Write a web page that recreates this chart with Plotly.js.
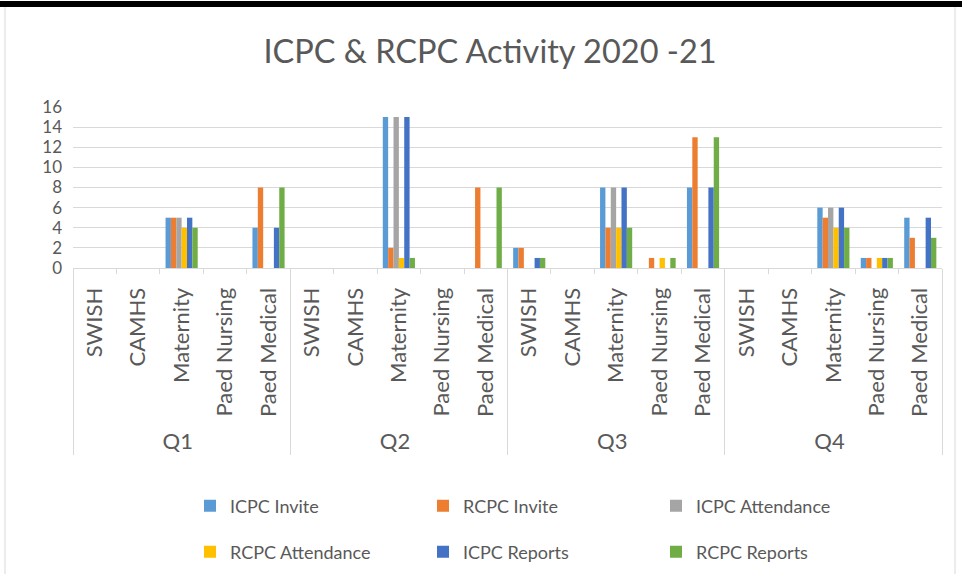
<!DOCTYPE html>
<html>
<head>
<meta charset="utf-8">
<script src="https://cdn.plot.ly/plotly-3.0.1.min.js"></script>
<style>html,body{margin:0;padding:0;background:#fff;}#chart{width:962px;height:574px;}</style>
</head>
<body>
<div id="chart"></div>
<script>
// Data
var quarters = ['Q1', 'Q2', 'Q3', 'Q4'];
var units = ['SWISH', 'CAMHS', 'Maternity', 'Paed Nursing', 'Paed Medical'];
var seriesNames = ['ICPC Invite', 'RCPC Invite', 'ICPC Attendance', 'RCPC Attendance', 'ICPC Reports', 'RCPC Reports'];

// values ordered Q1(SWISH..Paed Medical), Q2, Q3, Q4
var icpcInvite      = [0,0,5,0,4,   0,0,15,0,0,  2,0,8,0,8,   0,0,6,1,5];
var rcpcInvite      = [0,0,5,0,8,   0,0,2,0,8,   2,0,4,1,13,  0,0,5,1,3];
var icpcAttendance  = [0,0,5,0,0,   0,0,15,0,0,  0,0,8,0,0,   0,0,6,0,0];
var rcpcAttendance  = [0,0,4,0,0,   0,0,1,0,0,   0,0,4,1,0,   0,0,4,1,0];
var icpcReports     = [0,0,5,0,4,   0,0,15,0,0,  1,0,8,0,8,   0,0,6,1,5];
var rcpcReports     = [0,0,4,0,8,   0,0,1,0,8,   1,0,4,1,13,  0,0,4,1,3];

var colors = ['#5B9BD5', '#ED7D31', '#A5A5A5', '#FFC000', '#4472C4', '#70AD47'];
var allValues = [icpcInvite, rcpcInvite, icpcAttendance, rcpcAttendance, icpcReports, rcpcReports];

var xOuter = [], xInner = [];
quarters.forEach(function(q){ units.forEach(function(u){ xOuter.push(q); xInner.push(u); }); });

var FONT = 'Lato, "Open Sans", sans-serif';
var GREY = '#595959';

var traces = allValues.map(function(vals, i){
  return {
    type: 'bar',
    name: seriesNames[i],
    x: [xOuter, xInner],
    y: vals,
    marker: {color: colors[i]},
    legend: i < 3 ? 'legend' : 'legend2',
    hoverinfo: 'x+y+name'
  };
});

var PL = 73, PR = 942, PT = 107, PB = 268, W = 962, H = 574;
function px2x(p){ return (p - PL) / (PR - PL); }
function py2y(p){ return (PB - p) / (PB - PT); }

var layout = {
  width: W, height: H,
  margin: {l: PL, r: W - PR, t: PT, b: H - PB, pad: 0, autoexpand: false},
  paper_bgcolor: '#ffffff',
  plot_bgcolor: '#ffffff',
  font: {family: FONT, color: GREY},
  title: {
    text: 'ICPC &amp; RCPC Activity 2020 -21',
    font: {family: FONT, size: 32.5, color: GREY},
    x: 490 / W, xanchor: 'center', y: 1 - 52 / H, yanchor: 'middle'
  },
  barmode: 'group',
  bargap: 0.26,
  bargroupgap: 0,
  xaxis: {
    type: 'multicategory',
    tickangle: -90,
    tickfont: {family: FONT, size: 22, color: GREY},
    showline: true, linecolor: '#D9D9D9', linewidth: 1,
    showdividers: true, dividercolor: '#D9D9D9', dividerwidth: 1,
    ticks: 'outside', tickson: 'boundaries', ticklen: 5, tickcolor: '#D9D9D9',
    ticklabelstandoff: 10,
    showgrid: false, fixedrange: true
  },
  yaxis: {
    range: [0, 16], dtick: 2, tick0: 0,
    showgrid: true, gridcolor: '#D9D9D9', gridwidth: 1,
    zeroline: true, zerolinecolor: '#D9D9D9',
    showline: false,
    tickfont: {family: FONT, size: 17, color: GREY},
    ticks: '', ticklabelstandoff: 10, fixedrange: true
  },
  legend: {
    orientation: 'h', x: px2x(190), xanchor: 'left', y: py2y(506), yanchor: 'middle',
    entrywidth: 188, entrywidthmode: 'pixels',
    font: {family: FONT, size: 18, color: GREY}, bgcolor: 'rgba(0,0,0,0)'
  },
  legend2: {
    orientation: 'h', x: px2x(190), xanchor: 'left', y: py2y(552), yanchor: 'middle',
    entrywidth: 188, entrywidthmode: 'pixels',
    font: {family: FONT, size: 18, color: GREY}, bgcolor: 'rgba(0,0,0,0)'
  },
  shapes: [
    {type: 'rect', xref: 'paper', yref: 'paper', x0: px2x(0), x1: px2x(W), y0: py2y(1), y1: py2y(7),
     fillcolor: '#000000', line: {width: 0}, layer: 'above'},
    {type: 'line', xref: 'paper', yref: 'paper', x0: px2x(5), x1: px2x(5), y0: py2y(7), y1: py2y(574),
     line: {color: '#D9D9D9', width: 1}},
    {type: 'line', xref: 'paper', yref: 'paper', x0: px2x(955), x1: px2x(955), y0: py2y(7), y1: py2y(574),
     line: {color: '#D9D9D9', width: 1}}
  ]
};

Plotly.newPlot('chart', traces, layout, {displayModeBar: false, staticPlot: true});
</script>
</body>
</html>
